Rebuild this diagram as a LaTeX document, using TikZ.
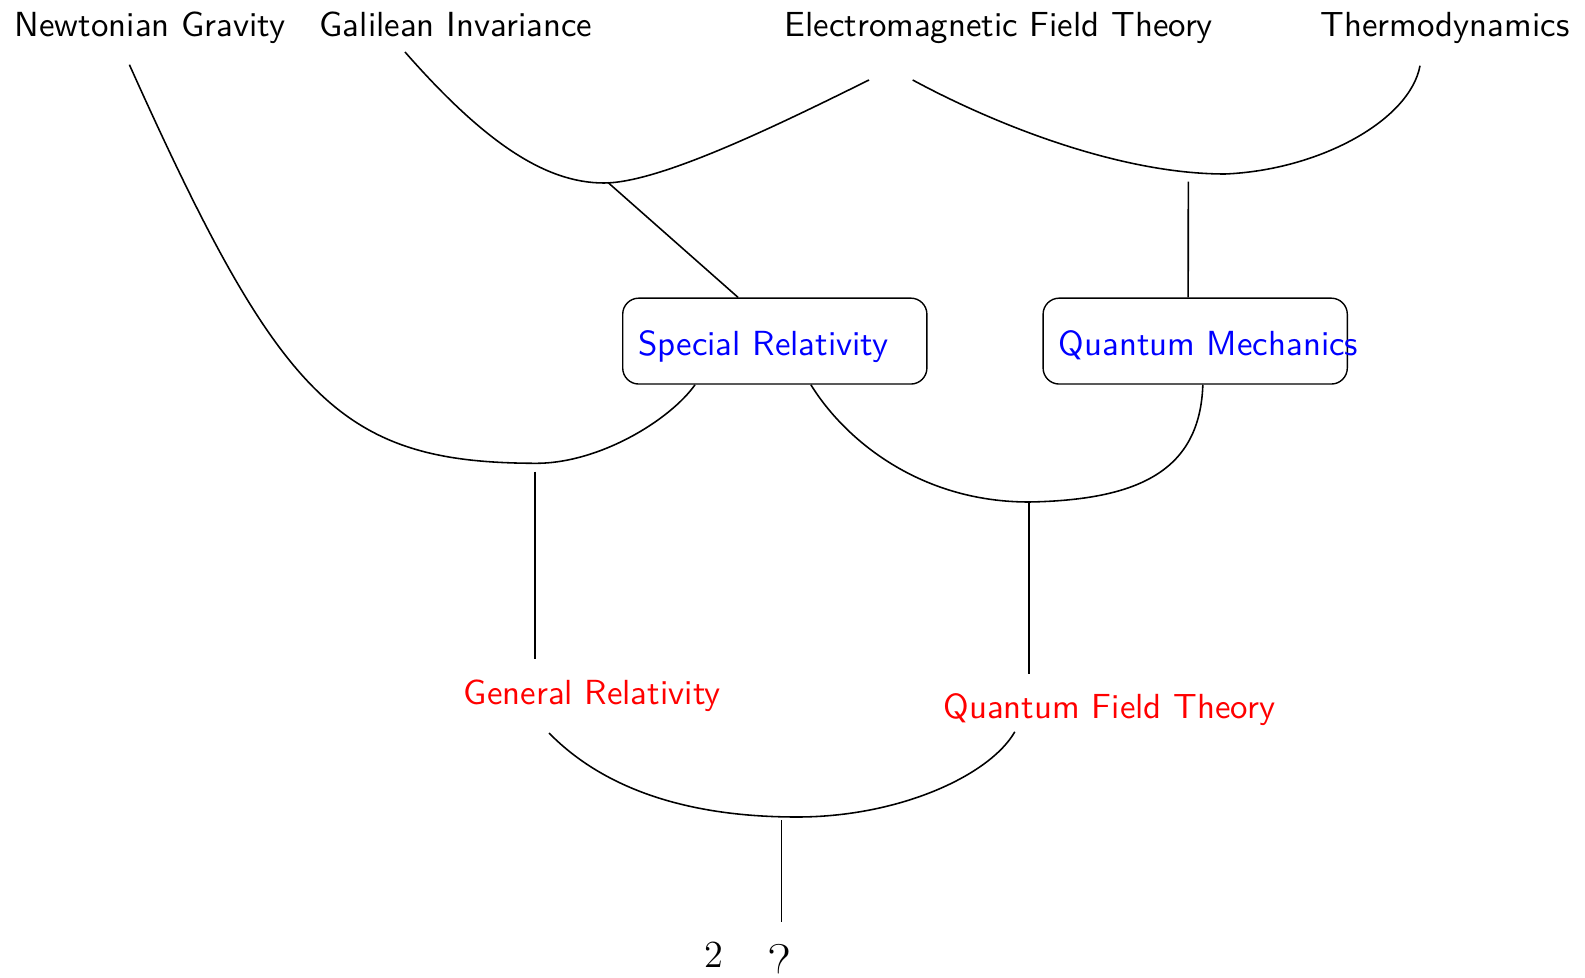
\documentclass[tikz,border=0pt]{standalone}
\usetikzlibrary{calc}
\begin{document}
\begin{tikzpicture}[x=0.287pt,y=-0.287pt,font=\sffamily,
  toptext/.style={anchor=base,inner sep=0pt},
  theorybox/.style={draw,rounded corners=4.6pt,text width=78.4pt,inner xsep=4.45pt,inner ysep=0pt,
    minimum height=24.65pt,align=left,text height=8.55pt,text depth=0pt,text=blue},
  result/.style={anchor=base,inner sep=0pt,text=red},
  link/.style={line width=0.45pt}]
\useasboundingbox (0,0) rectangle (1585,978);
% texts
\node[toptext] (ng) at (150.1,36.5) {Newtonian Gravity};
\node[toptext] (gi) at (455.9,36.5) {Galilean Invariance};
\node[toptext] (em) at (998.7,36.5) {Electromagnetic Field Theory};
\node[toptext] (td) at (1445,36.5) {Thermodynamics};
\node[theorybox] (sr) at (774.8,341.1) {\mbox{Special Relativity}};
\node[theorybox] (qm) at (1195.2,341.1) {\mbox{Quantum Mechanics}};
\node[result] (gr) at (592.3,704) {General Relativity};
\node[result] (qft) at (1109.3,718) {Quantum Field Theory};
\node[anchor=base,inner sep=0pt,font=\rmfamily\fontsize{11}{13}\selectfont] (two) at (714,967) {2};
\node[anchor=base,inner sep=0pt,font=\rmfamily\fontsize{16}{19}\selectfont] (unk) at (780,983.3) {?};
% connector points
\coordinate (ng-o) at (129.4,64.7);
\coordinate (gi-o) at (405,52);
\coordinate (em-l) at (869,80);
\coordinate (em-r) at (912.7,80);
\coordinate (td-o) at (1420,65.7);
\coordinate (j-sr) at (604,183);
\coordinate (j-sr-d) at (608,182.5);
\coordinate (sr-t) at ($(sr.north west)!0.38!(sr.north east)$);
\coordinate (sr-bl) at ($(sr.south west)!0.239!(sr.south east)$);
\coordinate (sr-br) at ($(sr.south west)!0.618!(sr.south east)$);
\coordinate (j-qm) at (1225,174);
\coordinate (j-qm-d) at (1188.3,181.7);
\coordinate (qm-t) at ($(qm.north west)!0.477!(qm.north east)$);
\coordinate (qm-b) at ($(qm.south west)!0.525!(qm.south east)$);
\coordinate (j-grav) at (536.7,463.3);
\coordinate (j-grav-d) at (535,471.7);
\coordinate (gr-i) at (535,659);
\coordinate (j-qft) at (1029,502);
\coordinate (qft-i) at (1029,674.2);
\coordinate (gr-o) at (549,733);
\coordinate (qft-o) at (1014.8,731.8);
\coordinate (j-end) at (797,817);
\coordinate (j-end-d) at (781.7,820);
\coordinate (unk-i) at (781.7,921.7);
% connectors
\draw[link] (gi-o) .. controls (484,142) and (545,183) .. (j-sr) .. controls (660,183) and (780,124) .. (em-l);
\draw[link] (j-sr-d) -- (sr-t);
\draw[link] (em-r) .. controls (996,125) and (1120,174) .. (j-qm) .. controls (1320,170) and (1410,120) .. (td-o);
\draw[link] (j-qm-d) -- (qm-t);
\draw[link] (ng-o) .. controls (280,400) and (340,463) .. (j-grav) .. controls (600,463) and (670,420) .. (sr-bl);
\draw[link] (j-grav-d) -- (gr-i);
\draw[link] (sr-br) .. controls (845,440) and (920,502) .. (j-qft) .. controls (1140,500) and (1200,470) .. (qm-b);
\draw[link] (j-qft) -- (qft-i);
\draw[link] (gr-o) .. controls (600,785) and (680,817) .. (j-end) .. controls (900,817) and (990,775) .. (qft-o);
\draw[link] (j-end-d) -- (unk-i);
\end{tikzpicture}
\end{document}
